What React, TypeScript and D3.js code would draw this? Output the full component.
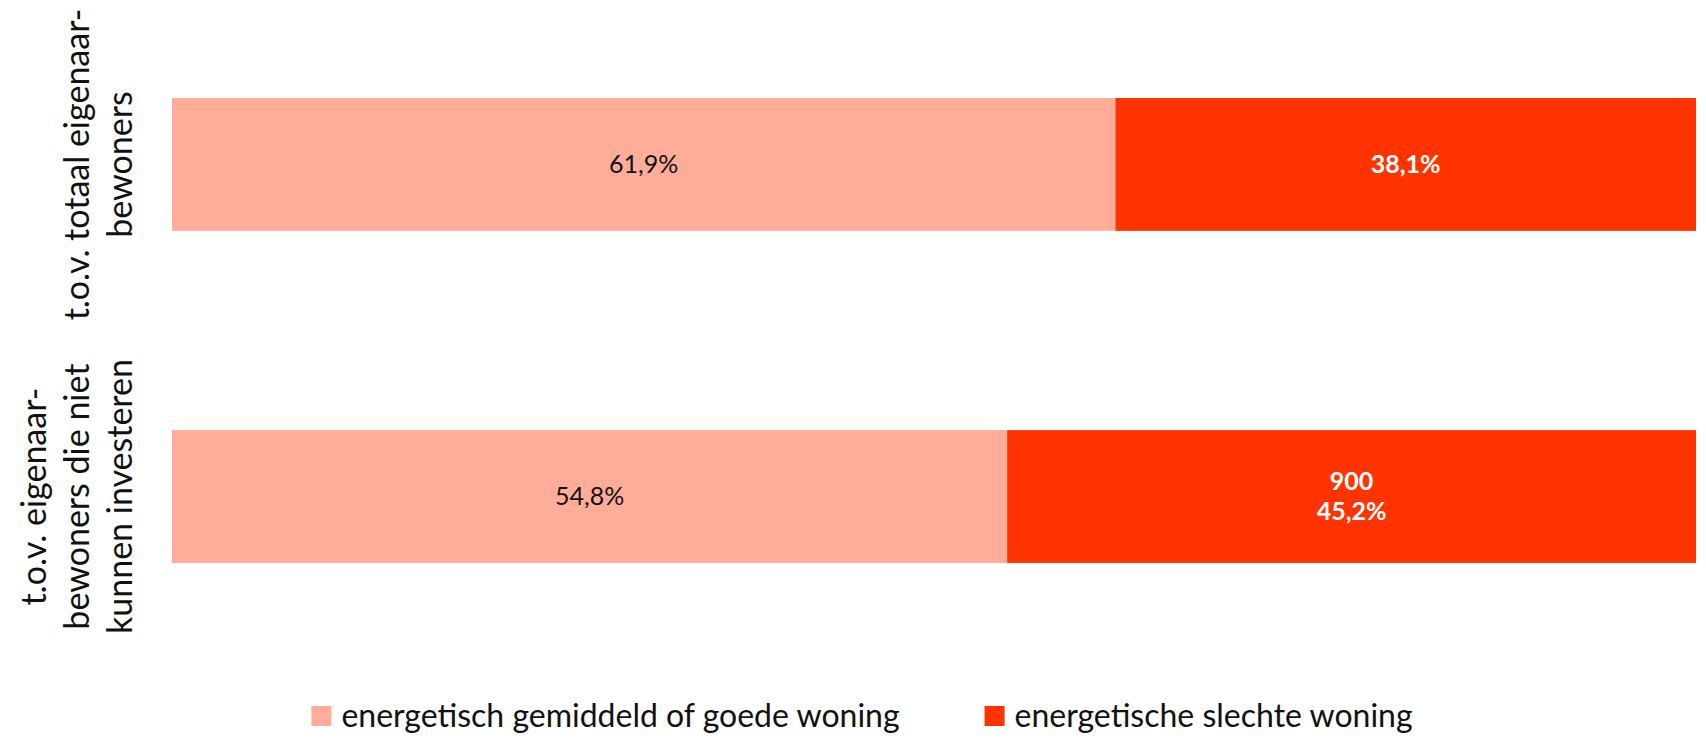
import React, { useEffect, useRef } from 'react';
import * as d3 from 'd3';

// categories (each label is split over lines, as in the original)
const categories = ['totaal', 'niet-investeren'];
const categoryLines = [
  ['t.o.v. totaal eigenaar-', 'bewoners'],
  ['t.o.v. eigenaar-', 'bewoners die niet', 'kunnen investeren'],
];

// series values in percent
const goodValues = [61.9, 54.8];
const badValues = [38.1, 45.2];
// absolute count shown with the percentage (only known for one bar)
const badCounts = [null, 900];

const seriesNames = ['energetisch gemiddeld of goede woning', 'energetische slechte woning'];
const colors = ['#ffad98', '#ff3300'];

const W = 1706, H = 740;
const FONT = 'Lato, "Source Sans Pro", sans-serif';

const fmt = (v: number) => v.toFixed(1).replace('.', ',') + '%';

const App = () => {
  const ref = useRef<SVGSVGElement>(null);

  useEffect(() => {
    const svg = d3.select(ref.current);
    svg.selectAll('*').remove();

    const x = d3.scaleLinear().domain([0, 100]).range([172, 1696]);
    const y = d3.scaleBand()
      .domain(categories)
      .range([15, 646])
      .paddingInner(0.6)
      .paddingOuter(0.25);

    const rows = categories.map((c, i) => ({
      cat: c,
      good: goodValues[i],
      bad: badValues[i],
      count: badCounts[i],
      lines: categoryLines[i],
    }));

    const g = svg.append('g');

    // good segment
    g.selectAll('rect.good')
      .data(rows)
      .join('rect')
        .attr('class', 'good')
        .attr('x', x(0))
        .attr('y', d => y(d.cat)!)
        .attr('width', d => x(d.good) - x(0))
        .attr('height', y.bandwidth())
        .attr('fill', colors[0]);

    // bad segment
    g.selectAll('rect.bad')
      .data(rows)
      .join('rect')
        .attr('class', 'bad')
        .attr('x', d => x(d.good))
        .attr('y', d => y(d.cat)!)
        .attr('width', d => x(d.good + d.bad) - x(d.good))
        .attr('height', y.bandwidth())
        .attr('fill', colors[1]);

    // labels inside bars
    g.selectAll('text.goodlbl')
      .data(rows)
      .join('text')
        .attr('class', 'goodlbl')
        .attr('x', d => (x(0) + x(d.good)) / 2)
        .attr('y', d => y(d.cat)! + y.bandwidth() / 2)
        .attr('dy', '0.35em')
        .attr('text-anchor', 'middle')
        .attr('font-family', FONT)
        .attr('font-size', 25)
        .attr('fill', '#111')
        .text(d => fmt(d.good));

    const badLbl = g.selectAll('text.badlbl')
      .data(rows)
      .join('text')
        .attr('class', 'badlbl')
        .attr('text-anchor', 'middle')
        .attr('font-family', FONT)
        .attr('font-size', 25)
        .attr('font-weight', 'bold')
        .attr('fill', '#fff');

    badLbl.each(function (d) {
      const t = d3.select(this);
      const cx = (x(d.good) + x(d.good + d.bad)) / 2;
      const cy = y(d.cat)! + y.bandwidth() / 2;
      const lines = d.count != null ? [String(d.count), fmt(d.bad)] : [fmt(d.bad)];
      const lh = 30;
      lines.forEach((l, k) => {
        t.append('tspan')
          .attr('x', cx)
          .attr('y', cy + (k - (lines.length - 1) / 2) * lh)
          .attr('dy', '0.35em')
          .text(l);
      });
    });

    // rotated category labels
    rows.forEach(d => {
      const cy = y(d.cat)! + y.bandwidth() / 2;
      const n = d.lines.length;
      const lh = 43;
      const lastX = 120;
      const t = svg.append('text')
        .attr('transform', `translate(0,${cy}) rotate(-90)`)
        .attr('text-anchor', 'middle')
        .attr('font-family', FONT)
        .attr('font-size', 34)
        .attr('fill', '#111');
      d.lines.forEach((l, k) => {
        t.append('tspan')
          .attr('x', 0)
          .attr('y', lastX - (n - 1 - k) * lh)
          .attr('dy', '0.35em')
          .text(l);
      });
    });

    // legend, centered
    const legend = svg.append('g');
    const sw = 20, gap = 10, itemGap = 85;
    let cx = 0;
    seriesNames.forEach((name, i) => {
      const item = legend.append('g').attr('transform', `translate(${cx},0)`);
      item.append('rect')
        .attr('x', 0).attr('y', -sw / 2)
        .attr('width', sw).attr('height', sw)
        .attr('fill', colors[i]);
      const txt = item.append('text')
        .attr('x', sw + gap)
        .attr('dy', '0.35em')
        .attr('font-family', FONT)
        .attr('font-size', 32)
        .attr('fill', '#111')
        .text(name);
      const w = (txt.node() as SVGTextElement).getComputedTextLength();
      cx += sw + gap + w + itemGap;
    });
    const total = cx - itemGap;
    legend.attr('transform', `translate(${862 - total / 2},${716})`);
  }, []);

  return (
    <svg ref={ref} width={W} height={H}
      style={{ position: 'absolute', left: 0, top: 0, background: '#fff' }} />
  );
};

export default App;
